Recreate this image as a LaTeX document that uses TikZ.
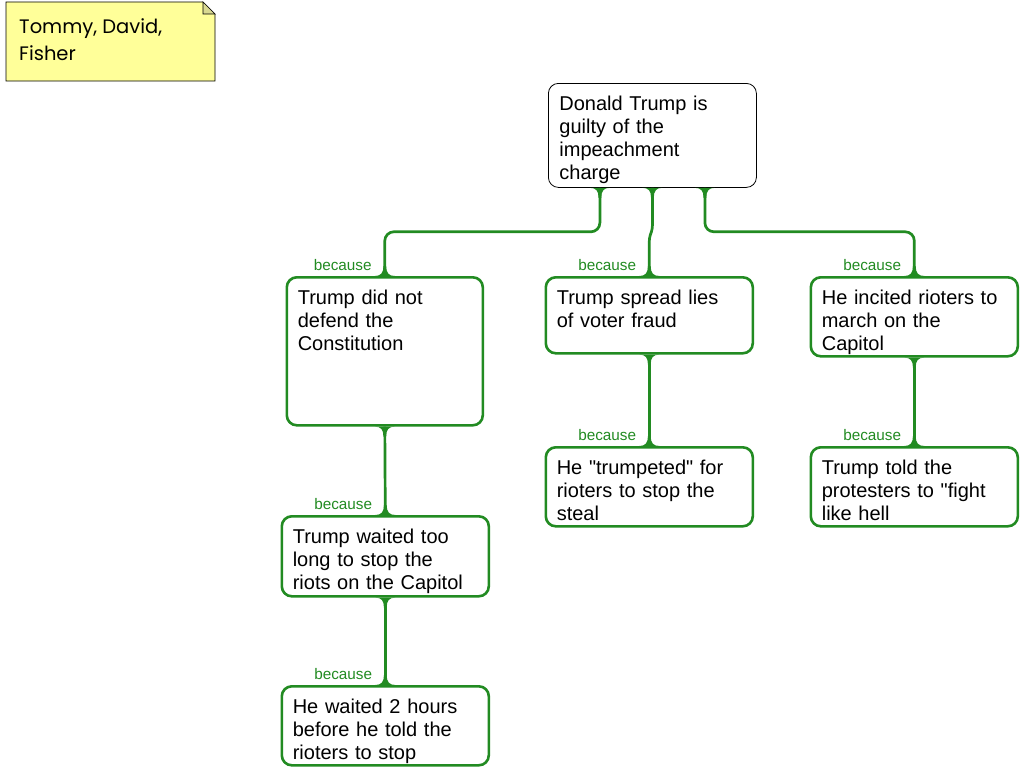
\documentclass[tikz,border=0pt]{standalone}
\usepackage{fontspec}
\setmainfont{Liberation Sans}[Ligatures=TeXOff]
\newfontfamily\notefont{Poppins}
\usetikzlibrary{calc}
\definecolor{grn}{RGB}{34,139,34}
\definecolor{noteyel}{RGB}{255,255,153}
\begin{document}
\begin{tikzpicture}[x=1pt,y=-1pt,
  box/.style={draw=grn, line width=2.6pt, rounded corners=10pt, anchor=north west,
    align=left, inner xsep=11pt, inner ysep=12pt, text height=15pt, fill=white,
    font=\fontsize{20}{23}\selectfont},
  rootbox/.style={box, draw=black, line width=0.8pt},
  conn/.style={draw=grn, line width=2.7pt, rounded corners=9pt},
  because/.style={anchor=base east, text=grn, inner sep=0pt, font=\fontsize{15.3}{15}\selectfont},
  fdown/.pic={\fill[grn] (-10pt,0pt) .. controls (-4pt,0pt) and (-1.35pt,-3pt) .. (-1.35pt,-10pt)
      -- (1.35pt,-10pt) .. controls (1.35pt,-3pt) and (4pt,0pt) .. (10pt,0pt) -- cycle;},
  fup/.pic={\fill[grn] (-10pt,0pt) .. controls (-4pt,0pt) and (-1.35pt,3pt) .. (-1.35pt,10pt)
      -- (1.35pt,10pt) .. controls (1.35pt,3pt) and (4pt,0pt) .. (10pt,0pt) -- cycle;}
]
\useasboundingbox (0,0) rectangle (1024,768);

% sticky note
\filldraw[fill=noteyel, draw=black, line width=0.7pt] (6,2) -- (203,2) -- (215,14) -- (215,81) -- (6,81) -- cycle;
\draw[line width=0.7pt, fill=noteyel!70!gray] (203,2) -- (203,14) -- (215,14) -- cycle;
\node[anchor=north west, inner sep=0pt, font=\notefont\fontsize{19.5}{27}\selectfont] (note1) at (19,18) {Tommy, David,};
\node[anchor=north west, inner sep=0pt, font=\notefont\fontsize{19.5}{27}\selectfont] (note2) at (19,45) {Fisher};

% boxes
\node[rootbox, text width=186pt, text depth=65pt] (root) at (548,83) {Donald Trump is\\guilty of the\\impeachment\\charge};
\node[box, text width=174pt, text depth=109pt] (A) at (285.5,276) {Trump did not\\defend the\\Constitution};
\node[box, text width=185pt, text depth=37pt] (B) at (544.5,276) {Trump spread lies\\of voter fraud};
\node[box, text width=185pt, text depth=40pt] (C) at (809.5,276) {He incited rioters to\\march on the\\Capitol};
\node[box, text width=185pt, text depth=41pt] (D) at (280.5,515) {Trump waited too\\long to stop the\\riots on the Capitol};
\node[box, text width=185pt, text depth=40pt] (E) at (544.5,446) {He "trumpeted" for\\rioters to stop the\\steal};
\node[box, text width=185pt, text depth=40pt] (F) at (809.5,446) {Trump told the\\protesters to "fight\\like hell};
\node[box, text width=185pt, text depth=40pt] (G) at (280.5,685) {He waited 2 hours\\before he told the\\rioters to stop};

% connectors
\coordinate (r1) at ($(root.south)+(-52.5pt,0pt)$);
\coordinate (r2) at ($(root.south)+(0pt,0pt)$);
\coordinate (r3) at ($(root.south)+(52.5pt,0pt)$);
\draw[conn] (r1) -- ++(0pt,-44pt) -| (A.north);
\draw[conn, rounded corners=3pt] (r2) -- ++(0pt,-41pt) -- ($(B.north)+(0pt,38pt)$) -- (B.north);
\draw[conn] (r3) -- ++(0pt,-44pt) -| (C.north);
\draw[conn] (A.south) -- (D.north);
\draw[conn] (B.south) -- (E.north);
\draw[conn] (C.south) -- (F.north);
\draw[conn] (D.south) -- (G.north);

% flares
\foreach \p in {r1,r2,r3,A.south,B.south,C.south,D.south} \pic at (\p) {fdown};
\foreach \p in {A.north,B.north,C.north,D.north,E.north,F.north,G.north} \pic at (\p) {fup};

% labels
\foreach \n in {A,B,C,D,E,F,G}
  \node[because] at ($(\n.north)+(-13pt,6pt)$) {because};
\end{tikzpicture}
\end{document}
